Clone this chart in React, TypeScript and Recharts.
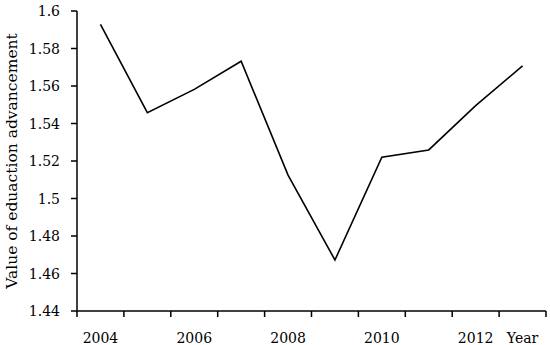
import { LineChart, Line, XAxis, YAxis, Label } from 'recharts';

const years = [2004, 2005, 2006, 2007, 2008, 2009, 2010, 2011, 2012, 2013];
const values = [1.5929, 1.5458, 1.5582, 1.5732, 1.5125, 1.4672, 1.522, 1.5259, 1.5495, 1.5707];

const yTicks = [1.44, 1.46, 1.48, 1.5, 1.52, 1.54, 1.56, 1.58, 1.6];
const boundaryTicks = [2003.5, 2004.5, 2005.5, 2006.5, 2007.5, 2008.5, 2009.5, 2010.5, 2011.5, 2012.5, 2013.5];
const labelTicks = [2004, 2006, 2008, 2010, 2012, 2013];
const lastLabel = 'Year';
const yTitle = 'Value of eduaction advancement';

const data = years.map((year, i) => ({ year, value: values[i] }));
const xTicks = [...boundaryTicks, ...labelTicks].sort((a, b) => a - b);

const serif = 'DejaVu Serif';

// boundary ticks get a short tick mark, year ticks get a label
function XTick(props: any) {
  const { x, y, payload } = props;
  const v = payload.value as number;
  if (boundaryTicks.includes(v)) {
    return <rect x={x - 0.75} y={y} width={1.5} height={6} fill="#000" />;
  }
  return (
    <text x={x} y={y + 32} textAnchor="middle" fontSize={14} fill="#000" fontFamily={serif}>
      {v === 2013 ? lastLabel : String(v)}
    </text>
  );
}

function YTick(props: any) {
  const { x, y, payload } = props;
  return (
    <g>
      <rect x={x - 6} y={y - 0.75} width={6} height={1.5} fill="#000" />
      <text x={x - 17} y={y + 5} textAnchor="end" fontSize={14} fill="#000" fontFamily={serif}>
        {String(Number((payload.value as number).toFixed(2)))}
      </text>
    </g>
  );
}

export default function App() {
  return (
    <div style={{ position: 'absolute', left: 0, top: 0, background: '#fff' }}>
      <LineChart width={550} height={345} data={data} margin={{ top: 11, right: 4, bottom: 0, left: 0 }}>
        <XAxis
          dataKey="year"
          type="number"
          domain={[2003.5, 2013.5]}
          ticks={xTicks}
          height={34}
          tickSize={0}
          tickMargin={0}
          tickLine={false}
          axisLine={{ stroke: '#000', strokeWidth: 1.5 }}
          tick={<XTick />}
          interval={0}
        />
        <YAxis
          domain={[1.44, 1.6]}
          ticks={yTicks}
          width={77}
          tickSize={0}
          tickMargin={0}
          tickLine={false}
          axisLine={{ stroke: '#000', strokeWidth: 1.5 }}
          tick={<YTick />}
          interval={0}
        >
          <Label
            content={(props: any) => {
              const vb = props.viewBox || { x: 0, y: 11, width: 77, height: 300 };
              const cx = vb.x + 17;
              const cy = vb.y + vb.height / 2;
              return (
                <text
                  x={cx}
                  y={cy}
                  transform={`rotate(-90, ${cx}, ${cy})`}
                  textAnchor="middle"
                  fontSize={15.5}
                  fontFamily={serif}
                  fill="#000"
                >
                  {yTitle}
                </text>
              );
            }}
          />
        </YAxis>
        <Line
          type="linear"
          dataKey="value"
          stroke="#000"
          strokeWidth={1.6}
          dot={false}
          isAnimationActive={false}
        />
      </LineChart>
    </div>
  );
}
